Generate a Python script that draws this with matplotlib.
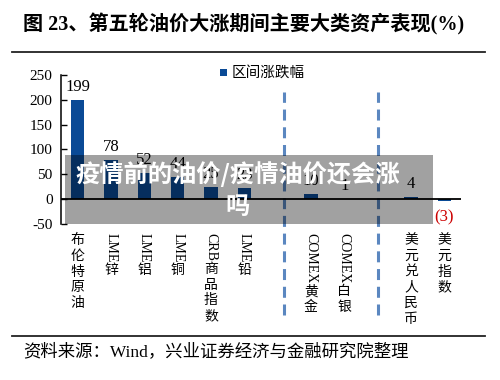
import matplotlib
matplotlib.use('Agg')
import matplotlib.pyplot as plt
from matplotlib.lines import Line2D
from matplotlib.patches import Rectangle

plt.rcParams['font.family'] = ['Liberation Serif', 'Noto Sans CJK SC']

# ---- data ----
categories = ['布伦特原油', 'LME锌', 'LME铝', 'LME铜', 'CRB商品指数', 'LME铅',
              'COMEX黄金', 'COMEX白银', '美元兑人民币', '美元指数']
values = [199, 78, 52, 44, 25, 23, 10, 1, 4, -3]
group_sizes = [6, 2, 2]          # commodities | precious metals | currency
yticks = [-50, 0, 50, 100, 150, 200, 250]
series_name = '区间涨跌幅'
title = '图 23、第五轮油价大涨期间主要大类资产表现(%)'
source = '资料来源：Wind，兴业证券经济与金融研究院整理'
overlay_line1 = '疫情前的油价/疫情油价还会涨'
overlay_line2 = '吗'

BAR = '#0a4a96'
DASH = '#5b87c0'
W, H = 500, 380

fig = plt.figure(figsize=(W / 100, H / 100), dpi=100)

def fx(px):
    return px / W

def fy(py):
    return 1 - py / H

# slot positions: one empty slot between groups
positions = []
slot = 0
for g in group_sizes:
    for _ in range(g):
        positions.append(slot)
        slot += 1
    slot += 1
n_slots = slot - 1

ax = fig.add_axes([fx(61), fy(224), fx(461) - fx(61), fy(75) - fy(224)])
ax.bar(positions, values, width=0.4, color=BAR, zorder=2)
ax.set_xlim(-0.5, n_slots - 0.5)
ax.set_ylim(-50, 250)
ax.set_yticks(yticks)
ax.set_yticklabels([str(v) for v in yticks], fontsize=11, family='Liberation Serif')
ax.tick_params(axis='y', direction='in', length=4, width=1, pad=6)
ax.set_xticks([])
for s in ['top', 'right', 'bottom']:
    ax.spines[s].set_visible(False)
ax.spines['left'].set_linewidth(1.1)
ax.axhline(0, color='black', lw=1.3, zorder=3)

# value labels
for p, v in zip(positions, values):
    if v >= 0:
        ax.annotate(str(v), xy=(p, v), xytext=(0, 5), textcoords='offset pixels',
                    ha='center', va='bottom', fontsize=12, family='Liberation Serif')
    else:
        ax.annotate('(%d)' % abs(v), xy=(p, v), xytext=(0, -9), textcoords='offset pixels',
                    ha='center', va='top', fontsize=12, family='Liberation Serif',
                    color='#cc0000')

# dashed separators
for xs in [6.2, 9.0]:
    ax.plot([xs, xs], [-234, 216], color=DASH, lw=2.2, linestyle=(0, (3.6, 2.2)),
            clip_on=False, zorder=1)

# vertical category labels: Latin runs rotated, CJK stacked upright
fig.canvas.draw()
renderer = fig.canvas.get_renderer()

def runs(s):
    out = []
    buf = ''
    for ch in s:
        if ord(ch) < 128:
            buf += ch
        else:
            if buf:
                out.append(('lat', buf))
                buf = ''
            out.append(('cjk', ch))
    if buf:
        out.append(('lat', buf))
    return out

for p, lab in zip(positions, categories):
    cur = 9
    for kind, txt in runs(lab):
        if kind == 'lat':
            t = ax.annotate(txt, xy=(p, 0), xycoords=('data', 'axes fraction'),
                            xytext=(0, -cur), textcoords='offset pixels',
                            rotation=-90, ha='center', va='top', fontsize=10,
                            family='Liberation Serif', annotation_clip=False)
            bb = t.get_window_extent(renderer)
            cur += bb.height + 1
        else:
            ax.annotate(txt, xy=(p, 0), xycoords=('data', 'axes fraction'),
                        xytext=(0, -cur), textcoords='offset pixels',
                        ha='center', va='top', fontsize=10,
                        family='Noto Sans CJK SC', annotation_clip=False)
            cur += 15.8

# legend
fig.patches.append(Rectangle((fx(220), fy(76)), fx(7), 7 / H, transform=fig.transFigure,
                             facecolor=BAR, edgecolor='none'))
fig.text(fx(232), fy(73), series_name, fontsize=10.5, family='Noto Sans CJK SC',
         va='center', ha='left')

# title and rules
fig.text(fx(23), fy(24), title, fontsize=14.5, fontweight='bold', va='center', ha='left',
         family=['Liberation Serif', 'Noto Sans CJK SC'])
fig.add_artist(Line2D([fx(12), fx(485)], [fy(52), fy(52)], color='#222222', lw=1.3))
fig.add_artist(Line2D([fx(12), fx(485)], [fy(336), fy(336)], color='#222222', lw=1.3))
fig.text(fx(23), fy(352), source, fontsize=12.5, va='center', ha='left',
         family=['Liberation Serif', 'Noto Sans CJK SC'])

# overlay banner
fig.patches.append(Rectangle((fx(65), fy(224)), fx(433) - fx(65), (224 - 155) / H,
                             transform=fig.transFigure, facecolor='black', alpha=0.37,
                             edgecolor='none', zorder=10))
fig.text(fx(238), fy(174), overlay_line1, fontsize=17.5, fontweight='heavy', color='white',
         ha='center', va='center', family='Noto Sans CJK SC', zorder=11)
fig.text(fx(238), fy(207), overlay_line2, fontsize=17.5, fontweight='heavy', color='white',
         ha='center', va='center', family='Noto Sans CJK SC', zorder=11)

fig.savefig('out.png', dpi=100)
